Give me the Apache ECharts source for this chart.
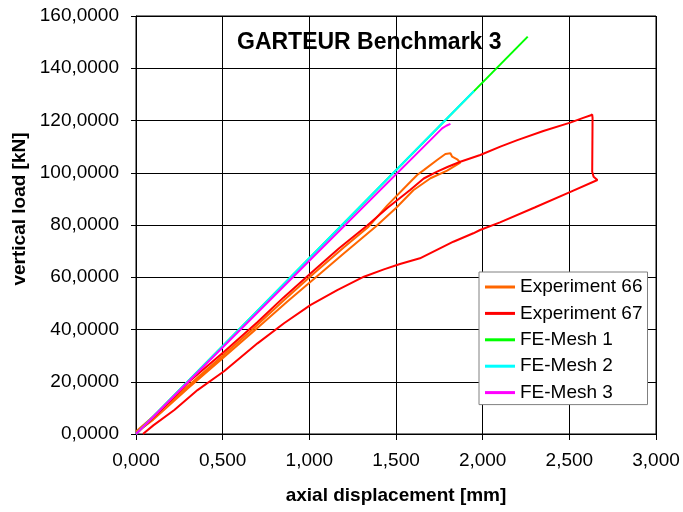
<!DOCTYPE html>
<html>
<head>
<meta charset="utf-8">
<script src="https://cdn.jsdelivr.net/npm/echarts@6/dist/echarts.min.js"></script>
<style>
  html, body { margin: 0; padding: 0; background: #fff; }
  #chart { width: 683px; height: 512px; }
</style>
</head>
<body>
<div id="chart"></div>
<script>
// axial displacement [mm] / vertical load [kN]
const exp66X = [0, 0.2, 0.4, 0.668, 0.85, 1.027, 1.2, 1.342, 1.45, 1.565, 1.622, 1.66, 1.737, 1.785, 1.814, 1.824, 1.853, 1.871,
  1.795, 1.699, 1.6, 1.5, 1.382, 1.2, 1.065, 0.87, 0.687, 0.5, 0.3, 0.1, 0]
const exp66Y = [1.0, 12.5, 24.2, 39.8, 51.0, 61.5, 71.5, 79.35, 87.5, 95.3, 99.15, 101.0, 104.9, 107.2, 107.45, 106.15, 105.15, 103.85,
  100.8, 97.9, 93.3, 86.5, 79.35, 69.2, 61.5, 50.5, 39.8, 29.0, 17.5, 5.5, 0.5]

const exp67X = [0, 0.15, 0.317, 0.508, 0.7, 0.85, 1.008, 1.17, 1.334, 1.45, 1.583, 1.66, 1.737, 1.8, 1.871, 1.986, 2.102, 2.2, 2.35, 2.505, 2.58, 2.62, 2.632,
  2.634, 2.632, 2.64, 2.662, 2.5, 2.3, 2.1, 1.985, 1.946, 1.831, 1.638, 1.523, 1.43, 1.315, 1.161, 1.008, 0.854, 0.701, 0.508, 0.355, 0.221, 0.1, 0.04]
const exp67Y = [0, 9.5, 20.7, 31.5, 42.8, 52.2, 61.5, 71.0, 79.8, 86.5, 93.5, 97.8, 100.4, 102.3, 104.2, 106.8, 110.0, 112.5, 116.0, 119.2, 121.0, 121.9, 122.3,
  121.0, 100.4, 98.5, 97.23, 92.5, 86.7, 81.0, 78.09, 76.83, 73.6, 67.26, 65.08, 63.0, 60.2, 55.1, 49.4, 42.4, 34.7, 24.0, 16.8, 9.19, 3.3, 0]

const mesh1X = [0, 2.26]
const mesh1Y = [0, 152.1]
const mesh2X = [0, 1.95]
const mesh2Y = [0, 131.3]
const mesh3X = [0, 1.0, 1.766, 1.79, 1.814]
const mesh3Y = [0, 66.3, 117.0, 118.0, 118.7]

const yTicks = [0, 20, 40, 60, 80, 100, 120, 140, 160]
const xTicks = [0, 0.5, 1, 1.5, 2, 2.5, 3]

const seriesNames = ['Experiment 66', 'Experiment 67', 'FE-Mesh 1', 'FE-Mesh 2', 'FE-Mesh 3']
const seriesColors = ['#ff6600', '#ff0000', '#00ff00', '#00ffff', '#ff00ff']
const seriesX = [exp66X, exp67X, mesh1X, mesh2X, mesh3X]
const seriesY = [exp66Y, exp67Y, mesh1Y, mesh2Y, mesh3Y]

const font = "'Liberation Sans', Arial, sans-serif"

const chart = echarts.init(document.getElementById('chart'))

chart.setOption({
  animation: false,
  backgroundColor: '#fff',
  textStyle: { fontFamily: font, color: '#000' },
  title: {
    text: 'GARTEUR Benchmark 3',
    left: 237,
    top: 31,
    padding: 0,
    textStyle: { fontFamily: font, fontSize: 23, fontWeight: 'bold', color: '#000' }
  },
  legend: {
    orient: 'vertical',
    left: 479,
    top: 272,
    padding: [5, 5, 2, 6],
    itemWidth: 30,
    itemHeight: 3,
    itemGap: 6.4,
    icon: 'rect',
    backgroundColor: '#fff',
    borderColor: '#808080',
    borderWidth: 1,
    borderRadius: 0,
    data: seriesNames,
    textStyle: { fontFamily: font, fontSize: 19, color: '#000', lineHeight: 20 }
  },
  grid: {
    left: 136,
    right: 27,
    top: 16,
    bottom: 78,
    show: true,
    borderColor: '#000',
    borderWidth: 1
  },
  xAxis: {
    type: 'value',
    min: xTicks[0],
    max: xTicks[xTicks.length - 1],
    interval: 0.5,
    name: 'axial displacement [mm]',
    nameLocation: 'middle',
    nameGap: 52,
    nameTextStyle: { fontFamily: font, fontSize: 19, fontWeight: 'bold', color: '#000' },
    axisLine: { lineStyle: { color: '#000', width: 1 } },
    axisTick: { show: true, inside: false, length: 6, lineStyle: { color: '#000' } },
    axisLabel: {
      margin: 17,
      fontFamily: font,
      fontSize: 19,
      color: '#000',
      formatter: (v) => v.toFixed(3).replace('.', ',')
    },
    splitLine: { show: true, lineStyle: { color: '#000', width: 1 } }
  },
  yAxis: {
    type: 'value',
    min: yTicks[0],
    max: yTicks[yTicks.length - 1],
    interval: 20,
    name: 'vertical load [kN]',
    nameLocation: 'middle',
    nameGap: 102,
    nameTextStyle: { fontFamily: font, fontSize: 19, fontWeight: 'bold', color: '#000', padding: [0, 0, 0, 32] },
    axisLine: { lineStyle: { color: '#000', width: 1 } },
    axisTick: { show: true, inside: false, length: 5, lineStyle: { color: '#000' } },
    axisLabel: {
      margin: 17,
      fontFamily: font,
      fontSize: 19,
      color: '#000',
      formatter: (v) => v.toFixed(4).replace('.', ',')
    },
    splitLine: { show: true, lineStyle: { color: '#000', width: 1 } }
  },
  series: seriesNames.map((name, i) => ({
    name: name,
    type: 'line',
    symbol: 'none',
    color: seriesColors[i],
    lineStyle: { color: seriesColors[i], width: 2 },
    data: seriesX[i].map((x, j) => [x, seriesY[i][j]])
  }))
})
</script>
</body>
</html>
